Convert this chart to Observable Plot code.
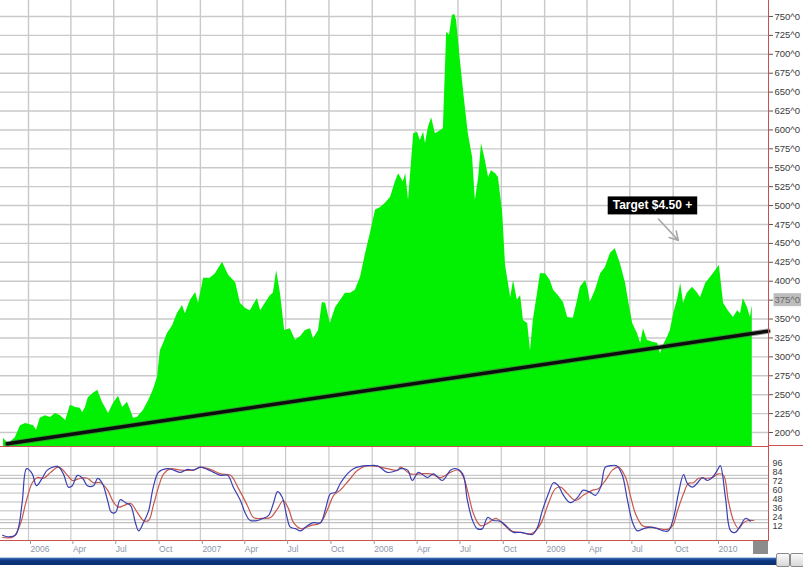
<!DOCTYPE html>
<html><head><meta charset="utf-8">
<script src="https://cdn.jsdelivr.net/npm/d3@7"></script>
<script src="https://cdn.jsdelivr.net/npm/@observablehq/plot@0.6"></script>
<style>
body{margin:0;background:#fff;font-family:"Liberation Sans",Arial,sans-serif;}
#wrap{position:relative;width:803px;height:569px;background:#fff;}
#wrap svg{display:block;}
.scroll{position:absolute;left:0;top:557px;width:776px;height:7px;background:linear-gradient(#3a6ab8,#0b357e 40%,#0a2f70);border-top:1px solid #b8cce8;}
.btn{position:absolute;top:553px;width:12px;height:12px;background:linear-gradient(#fafafa,#d8d8d8);border:1px solid #8a8a8a;border-radius:2px;}
.corner{position:absolute;left:753px;top:541px;width:15px;height:13px;background:#8c8c8c;}
.redtail{position:absolute;left:768px;top:445px;width:35px;height:1px;background:#c85050;}
</style></head><body><div id="wrap"></div>
<script>
// ---------- data ----------
const priceDates = ["2005-11-09","2005-11-20","2005-12-04","2005-12-15","2005-12-26","2006-01-12","2006-01-18","2006-01-26","2006-02-06","2006-02-17","2006-02-27","2006-03-10","2006-03-21","2006-03-31","2006-04-11","2006-04-21","2006-04-26","2006-05-02","2006-05-08","2006-05-19","2006-05-28","2006-06-07","2006-06-20","2006-06-30","2006-07-11","2006-07-20","2006-07-30","2006-08-06","2006-08-12","2006-08-20","2006-09-02","2006-09-13","2006-09-23","2006-10-02","2006-10-08","2006-10-15","2006-10-23","2006-11-03","2006-11-13","2006-11-24","2006-11-30","2006-12-11","2006-12-22","2006-12-28","2007-01-08","2007-01-22","2007-02-02","2007-02-17","2007-03-02","2007-03-17","2007-03-27","2007-04-07","2007-04-17","2007-05-02","2007-05-09","2007-05-19","2007-05-30","2007-06-05","2007-06-12","2007-06-20","2007-06-29","2007-07-11","2007-07-22","2007-08-02","2007-08-12","2007-08-23","2007-08-29","2007-09-09","2007-09-17","2007-09-24","2007-10-04","2007-10-15","2007-10-26","2007-11-05","2007-11-16","2007-11-26","2007-12-07","2007-12-18","2007-12-28","2008-01-08","2008-01-18","2008-01-29","2008-02-09","2008-02-19","2008-02-26","2008-03-07","2008-03-12","2008-03-18","2008-03-29","2008-04-06","2008-04-12","2008-04-19","2008-04-23","2008-04-29","2008-05-06","2008-05-14","2008-05-25","2008-05-31","2008-06-07","2008-06-13","2008-06-19","2008-06-24","2008-06-28","2008-07-06","2008-07-15","2008-07-23","2008-08-01","2008-08-07","2008-08-14","2008-08-20","2008-08-28","2008-09-04","2008-09-10","2008-09-19","2008-09-25","2008-10-04","2008-10-10","2008-10-21","2008-10-27","2008-11-04","2008-11-11","2008-11-17","2008-11-26","2008-12-02","2008-12-08","2008-12-17","2008-12-23","2009-01-03","2009-01-13","2009-01-20","2009-01-30","2009-02-10","2009-02-19","2009-03-03","2009-03-12","2009-03-18","2009-03-29","2009-04-04","2009-04-08","2009-04-19","2009-04-30","2009-05-10","2009-05-21","2009-05-31","2009-06-11","2009-06-22","2009-06-28","2009-07-07","2009-07-17","2009-07-24","2009-07-30","2009-08-07","2009-08-20","2009-08-29","2009-09-04","2009-09-10","2009-09-19","2009-09-25","2009-10-02","2009-10-10","2009-10-17","2009-10-23","2009-10-31","2009-11-11","2009-11-22","2009-11-28","2009-12-09","2009-12-19","2009-12-30","2010-01-07","2010-01-16","2010-01-26","2010-02-06","2010-02-15","2010-02-21","2010-02-27","2010-03-08","2010-03-14","2010-03-18"];
const priceValues = [192,185,193,209,212,209,203,219,222,220,225,222,216,236,233,232,226,233,246,252,256,240,225,238,248,233,240,229,219,220,229,242,256,273,308,318,331,341,357,368,357,375,385,371,404,404,410,425,408,398,371,364,361,377,361,371,381,384,414,384,335,337,322,327,335,337,324,335,372,371,344,365,375,384,384,388,405,437,463,494,497,503,511,531,542,531,542,507,595,597,586,597,582,603,616,595,599,602,729,725,751,753,745,692,639,595,564,507,537,582,560,537,546,542,537,490,421,378,401,375,381,348,344,308,348,384,410,410,401,388,381,372,352,351,375,392,401,388,372,388,410,418,437,443,423,397,375,344,331,318,337,322,319,318,304,315,326,335,357,375,397,371,384,392,384,378,397,405,414,421,371,361,352,361,357,377,365,352,368];

const trendDates = ["2005-11-17","2010-04-21"];
const trendValues = [185,334];

const kDates = ["2005-11-07","2005-11-17","2005-12-04","2005-12-11","2005-12-19","2005-12-28","2006-01-09","2006-01-18","2006-01-31","2006-02-10","2006-03-04","2006-03-16","2006-03-27","2006-04-04","2006-04-15","2006-04-26","2006-05-06","2006-05-19","2006-05-28","2006-06-07","2006-06-18","2006-06-26","2006-07-05","2006-07-15","2006-07-26","2006-08-06","2006-08-16","2006-08-23","2006-09-02","2006-09-13","2006-09-23","2006-10-04","2006-10-23","2006-11-05","2006-11-20","2006-12-05","2006-12-17","2007-01-01","2007-01-16","2007-01-29","2007-02-13","2007-02-28","2007-03-12","2007-03-27","2007-04-07","2007-04-17","2007-05-02","2007-05-15","2007-05-26","2007-06-05","2007-06-14","2007-06-24","2007-07-03","2007-07-11","2007-07-22","2007-08-02","2007-08-16","2007-08-29","2007-09-13","2007-09-24","2007-10-04","2007-10-15","2007-10-25","2007-11-09","2007-11-22","2007-12-07","2007-12-22","2008-01-12","2008-02-02","2008-02-24","2008-03-01","2008-03-16","2008-03-26","2008-04-08","2008-04-27","2008-05-10","2008-05-29","2008-06-15","2008-06-26","2008-07-11","2008-07-21","2008-08-01","2008-08-11","2008-08-22","2008-09-02","2008-09-14","2008-09-29","2008-10-14","2008-10-27","2008-11-11","2008-11-26","2008-12-06","2008-12-17","2008-12-27","2009-01-09","2009-01-20","2009-01-30","2009-02-10","2009-02-25","2009-03-12","2009-03-24","2009-04-08","2009-04-19","2009-04-30","2009-05-10","2009-05-21","2009-06-03","2009-06-15","2009-06-26","2009-07-07","2009-07-17","2009-07-30","2009-08-14","2009-08-29","2009-09-10","2009-09-21","2009-10-02","2009-10-12","2009-10-23","2009-10-31","2009-11-11","2009-11-22","2009-12-02","2009-12-13","2009-12-23","2010-01-03","2010-01-09","2010-01-20","2010-01-31","2010-02-10","2010-02-21","2010-03-04","2010-03-14"];
const kValues = [3,1,3,14,50,93,86,70,81,91,96,86,68,70,84,80,70,70,80,73,50,34,34,51,47,43,20,9,20,36,68,88,93,91,88,92,91,95,92,88,84,84,68,50,32,23,23,26,30,46,62,54,30,14,12,9,16,20,20,39,59,61,73,86,93,96,97,97,88,91,93,91,77,88,81,86,77,91,93,86,50,23,12,12,27,23,22,14,7,7,5,4,14,36,59,74,70,57,47,54,64,61,57,68,95,97,97,84,50,20,9,12,14,12,9,9,27,59,85,73,68,74,81,77,81,91,97,54,9,7,16,26,22];

const dDates = ["2005-11-07","2005-11-30","2005-12-15","2005-12-26","2006-01-09","2006-01-20","2006-02-02","2006-02-17","2006-03-06","2006-03-25","2006-04-04","2006-04-21","2006-05-06","2006-05-19","2006-06-03","2006-06-18","2006-07-01","2006-07-11","2006-07-22","2006-08-06","2006-08-20","2006-09-02","2006-09-13","2006-09-23","2006-10-04","2006-10-15","2006-10-30","2006-11-20","2006-12-17","2007-01-01","2007-01-22","2007-02-13","2007-03-06","2007-03-23","2007-04-11","2007-04-24","2007-05-15","2007-05-30","2007-06-14","2007-06-26","2007-07-07","2007-07-18","2007-08-02","2007-08-23","2007-09-13","2007-09-30","2007-10-11","2007-10-25","2007-11-12","2007-12-01","2007-12-22","2008-01-12","2008-02-02","2008-02-24","2008-03-01","2008-03-22","2008-04-12","2008-05-04","2008-05-25","2008-06-15","2008-07-02","2008-07-13","2008-07-23","2008-08-03","2008-08-18","2008-09-02","2008-09-19","2008-10-04","2008-10-21","2008-11-11","2008-12-02","2008-12-17","2008-12-27","2009-01-09","2009-01-24","2009-02-04","2009-02-19","2009-03-08","2009-03-24","2009-04-13","2009-04-25","2009-05-10","2009-05-25","2009-06-07","2009-06-22","2009-07-02","2009-07-13","2009-07-28","2009-08-14","2009-08-31","2009-09-19","2009-09-30","2009-10-10","2009-10-23","2009-11-02","2009-11-13","2009-11-24","2009-12-09","2009-12-23","2010-01-05","2010-01-16","2010-01-26","2010-02-06","2010-02-17","2010-02-27","2010-03-10","2010-03-21"];
const dValues = [0,1,19,46,74,81,80,88,95,84,77,80,80,74,74,64,47,41,43,46,34,23,23,43,68,86,93,91,91,95,92,86,84,66,43,27,26,27,39,50,39,20,12,16,20,41,57,64,77,91,97,96,93,91,95,86,86,86,81,88,91,81,59,32,16,19,26,19,9,7,5,12,23,46,66,68,59,50,57,64,66,77,91,95,81,57,32,16,14,12,11,16,36,59,73,74,80,80,81,86,84,50,23,12,20,23,23];

const quarterDates = ["2006-01-01","2006-04-01","2006-07-01","2006-10-01","2007-01-01","2007-04-01","2007-07-01","2007-10-01","2008-01-01","2008-04-01","2008-07-01","2008-10-01","2009-01-01","2009-04-01","2009-07-01","2009-10-01","2010-01-01"];
const quarterLabels = ["2006","Apr","Jul","Oct","2007","Apr","Jul","Oct","2008","Apr","Jul","Oct","2009","Apr","Jul","Oct","2010"];
const priceTicks = [200,225,250,275,300,325,350,375,400,425,450,475,500,525,550,575,600,625,650,675,700,725,750];
const stochTicks = [12,24,36,48,60,72,84,96];
const stochLevels = [20,80];

const targetText = ["Target $4.50 +"];
const targetDate = ["2009-08-18"];
const targetValue = [500];
const arrowFromDate = "2009-08-31", arrowFromValue = 482;
const arrowToDate = "2009-10-12", arrowToValue = 454;

// ---------- build ----------
const D = s => new Date(s + "T00:00:00Z");
const price = priceDates.map((d, i) => ({date: D(d), value: priceValues[i]}));
const trend = trendDates.map((d, i) => ({date: D(d), value: trendValues[i]}));
const kLine = kDates.map((d, i) => ({date: D(d), value: kValues[i]}));
const dLine = dDates.map((d, i) => ({date: D(d), value: dValues[i]}));
const qDates = quarterDates.map(D);
const qLabel = new Map(qDates.map((d, i) => [+d, quarterLabels[i]]));
const target = targetText.map((t, i) => ({text: t, date: D(targetDate[i]), value: targetValue[i]}));
const arrows = [{x1: D(arrowFromDate), y1: arrowFromValue, x2: D(arrowToDate), y2: arrowToValue}];

const xScale = {type: "utc", domain: [D("2006-01-01"), D("2010-01-01")], range: [28, 716], label: null, axis: null};
const priceDomain = [181.5, 771.1];
const gridColor = "#c9c9c9";
const axisRed = "#c85050";

const main = Plot.plot({
  width: 803, height: 447,
  marginLeft: 0, marginRight: 35, marginTop: 0, marginBottom: 1,
  x: xScale,
  y: {domain: priceDomain, range: [446, 0], label: null, axis: null},
  style: {fontFamily: "'Liberation Sans', Arial, sans-serif", fontSize: "9.5px", color: "#3a3a3a", background: "#fff"},
  marks: [
    Plot.gridX(qDates, {stroke: gridColor, strokeOpacity: 1, strokeWidth: 1.4}),
    Plot.gridY(priceTicks, {stroke: gridColor, strokeOpacity: 1, strokeWidth: 1.4}),
    Plot.frame({anchor: "bottom", stroke: axisRed}),
    Plot.areaY(price, {x: "date", y1: priceDomain[0], y2: "value", fill: "#02f002"}),
    Plot.line(trend, {x: "date", y: "value", stroke: "#555", strokeWidth: 5.5, strokeOpacity: 0.5}),
    Plot.line(trend, {x: "date", y: "value", stroke: "#0d0d0d", strokeWidth: 3.5}),
    Plot.frame({anchor: "right", stroke: axisRed}),
    Plot.axisY(priceTicks, {anchor: "right", tickFormat: d => `${d}^0`, tickSize: 4, tickPadding: 2, stroke: "#555", fill: "#3a3a3a", label: null}),
    Plot.arrow(arrows, {x1: "x1", y1: "y1", x2: "x2", y2: "y2", stroke: "#a8a8a8", strokeWidth: 1.6, headLength: 9}),
    Plot.text(target, {x: "date", y: "value", text: "text", fill: "#fff", fontWeight: "bold", fontSize: 12})
  ]
});

const stoch = Plot.plot({
  width: 803, height: 110,
  marginLeft: 0, marginRight: 35, marginTop: 0, marginBottom: 17,
  x: xScale,
  y: {domain: [-4.05, 121.6], range: [93, 0], label: null, axis: null},
  style: {fontFamily: "'Liberation Sans', Arial, sans-serif", fontSize: "9px", color: "#3a3a3a", background: "#fff"},
  marks: [
    Plot.gridX(qDates, {stroke: gridColor, strokeOpacity: 1, strokeWidth: 1.2}),
    Plot.gridY(stochTicks, {stroke: "#bdbdbd", strokeOpacity: 1, strokeWidth: 1}),
    Plot.gridY(stochLevels, {stroke: "#b0b0b0", strokeOpacity: 1, strokeWidth: 1}),
    Plot.line(dLine, {x: "date", y: "value", stroke: "#c8584c", strokeWidth: 1.2, curve: "catmull-rom"}),
    Plot.line(kLine, {x: "date", y: "value", stroke: "#3b3fb0", strokeWidth: 1.2, curve: "catmull-rom"}),
    Plot.frame({anchor: "right", stroke: axisRed}),
    Plot.frame({anchor: "bottom", stroke: axisRed}),
    Plot.axisY(stochTicks, {anchor: "right", tickSize: 0, tickPadding: 4, dy: -3, fontSize: 9, fill: "#3a3a3a", label: null}),
    Plot.axisX(qDates, {anchor: "bottom", tickSize: 4, tickPadding: 1, tickFormat: d => qLabel.get(+d), textAnchor: "start", dx: 2, fontSize: 8.5, fill: "#8c96aa", stroke: "#9a9a9a", label: null})
  ]
});

const wrap = document.getElementById("wrap");
wrap.appendChild(main);
wrap.appendChild(stoch);
for (const cls of ["scroll", "corner", "redtail"]) {
  const el = document.createElement("div"); el.className = cls; wrap.appendChild(el);
}
for (const left of [776, 790]) {
  const b = document.createElement("div"); b.className = "btn"; b.style.left = left + "px"; wrap.appendChild(b);
}

const NS = "http://www.w3.org/2000/svg";
function boxBehind(textEl, pad, fill) {
  const bb = textEl.getBBox();
  const r = document.createElementNS(NS, "rect");
  r.setAttribute("x", bb.x - pad[0]);
  r.setAttribute("y", bb.y - pad[1]);
  r.setAttribute("width", bb.width + 2 * pad[0]);
  r.setAttribute("height", bb.height + 2 * pad[1]);
  r.setAttribute("fill", fill);
  const t = textEl.getAttribute("transform");
  if (t) r.setAttribute("transform", t);
  textEl.parentNode.insertBefore(r, textEl);
}
for (const t of main.querySelectorAll("text")) {
  if (t.textContent === targetText[0]) boxBehind(t, [5, 2], "#000");
  if (t.textContent === "375^0") { boxBehind(t, [1, 1], "#bdbdbd"); t.setAttribute("fill", "#6a6a6a"); }
}
</script>
</body></html>
